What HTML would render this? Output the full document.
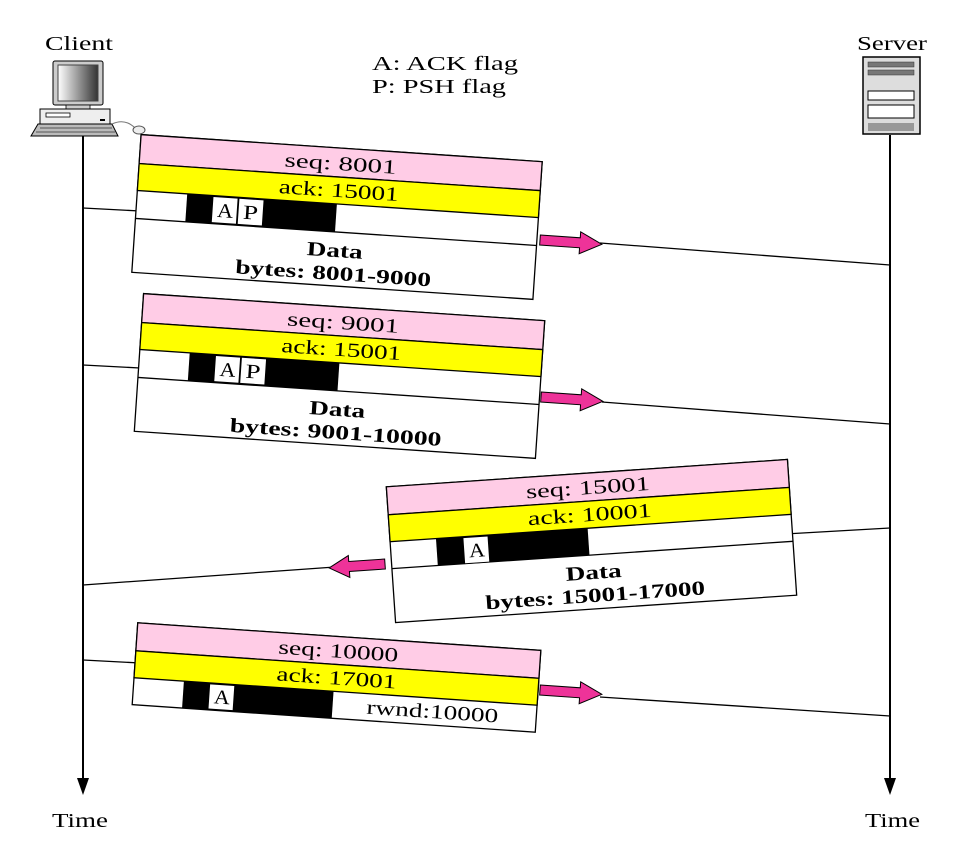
<!DOCTYPE html>
<html><head><style>body{margin:0;background:#fff}svg{display:block}</style></head><body>
<svg width="962" height="850" viewBox="0 0 962 850" xmlns="http://www.w3.org/2000/svg" font-family="Liberation Serif, serif">
<defs>
<linearGradient id="scr" x1="0" x2="1"><stop offset="0" stop-color="#fff"/><stop offset="1" stop-color="#333"/></linearGradient>
</defs>
<g font-size="20" lengthAdjust="spacingAndGlyphs">
<text x="45" y="50" textLength="68" lengthAdjust="spacingAndGlyphs">Client</text>
<text x="857" y="50" textLength="70" lengthAdjust="spacingAndGlyphs">Server</text>
<text x="372" y="70" textLength="146" lengthAdjust="spacingAndGlyphs">A: ACK flag</text>
<text x="372" y="93" textLength="134" lengthAdjust="spacingAndGlyphs">P: PSH flag</text>
<text x="52" y="827" textLength="56" lengthAdjust="spacingAndGlyphs">Time</text>
<text x="865" y="827" textLength="55" lengthAdjust="spacingAndGlyphs">Time</text>
</g>
<rect x="53" y="61" width="50" height="44" rx="2" fill="#ccc" stroke="#000"/>
<rect x="58" y="65" width="40" height="36" fill="url(#scr)" stroke="#444"/>
<rect x="66" y="105" width="24" height="4" fill="#ccc" stroke="#000" stroke-width=".8"/>
<rect x="40" y="109" width="70" height="15" fill="#eee" stroke="#000"/>
<rect x="46" y="113" width="24" height="4" fill="#fff" stroke="#000" stroke-width=".8"/>
<rect x="100" y="119" width="5" height="2" fill="#000"/>
<polygon points="38,124 112,124 118,136 31,136" fill="#bbb" stroke="#000"/>
<path d="M40,128H112M36,132H115" stroke="#555"/>
<path d="M112,124 Q125,118 135,128" fill="none" stroke="#777"/>
<ellipse cx="139" cy="130" rx="6" ry="4" fill="#eee" stroke="#555"/>
<rect x="863" y="57" width="57" height="77" fill="#ddd" stroke="#000" stroke-width="1.5"/>
<rect x="868" y="62" width="46" height="5" fill="#777" stroke="#333" stroke-width=".5"/>
<rect x="868" y="70" width="46" height="5" fill="#777" stroke="#333" stroke-width=".5"/>
<rect x="868" y="91" width="46" height="9" fill="#fff" stroke="#000"/>
<rect x="868" y="105" width="46" height="13" fill="#fff" stroke="#000"/>
<rect x="868" y="123" width="46" height="8" fill="#999"/>
<g stroke="#000" stroke-width="2">
<line x1="83" y1="136" x2="83" y2="785"/>
<line x1="890" y1="135" x2="890" y2="785"/>
</g>
<polygon points="77,778 89,778 83,795" fill="#000"/>
<polygon points="884,778 896,778 890,795" fill="#000"/>
<g stroke="#000" stroke-width="1.3" fill="none">
<line x1="83" y1="208" x2="140" y2="211"/>
<line x1="600" y1="243" x2="890" y2="265"/>
<line x1="83" y1="365" x2="140" y2="368"/>
<line x1="602" y1="402" x2="890" y2="424"/>
<line x1="785" y1="534" x2="890" y2="528"/>
<line x1="83" y1="585" x2="335" y2="567"/>
<line x1="83" y1="660" x2="140" y2="663"/>
<line x1="600" y1="697" x2="890" y2="716"/>
</g>
<g fill="#ee3399" stroke="#000" stroke-width="1">
<polygon transform="translate(540,240) rotate(4)" points="0,-5 40,-5 40,-11 62,0 40,11 40,5 0,5"/>
<polygon transform="translate(541,397) rotate(4)" points="0,-5 40,-5 40,-11 62,0 40,11 40,5 0,5"/>
<polygon transform="translate(385,564) rotate(176)" points="0,-5 36,-5 36,-11 56,0 36,11 36,5 0,5"/>
<polygon transform="translate(540,690) rotate(4)" points="0,-5 40,-5 40,-11 62,0 40,11 40,5 0,5"/>
</g>
<g transform="translate(337,217) rotate(3.86)" font-size="20">
<rect x="-201" y="-69" width="402" height="138" fill="#fff" stroke="#000" stroke-width="1.3"/>
<rect x="-201" y="-69" width="402" height="29" fill="#ffcce6" stroke="#000" stroke-width="1.3"/>
<rect x="-201" y="-40" width="402" height="27" fill="#ffff00" stroke="#000" stroke-width="1.3"/>
<line x1="-201" y1="15" x2="201" y2="15" stroke="#000" stroke-width="1.3"/>
<rect x="-151" y="-13" width="150" height="28" fill="#000"/>
<rect x="-125" y="-12" width="25" height="26" fill="#fff" stroke="#000" stroke-width=".8"/>
<rect x="-99" y="-12" width="25" height="26" fill="#fff" stroke="#000" stroke-width=".8"/>
<text x="-120" y="8" textLength="16" lengthAdjust="spacingAndGlyphs">A</text><text x="-94" y="8" textLength="15" lengthAdjust="spacingAndGlyphs">P</text>
<text x="-56" y="-47" textLength="112" lengthAdjust="spacingAndGlyphs">seq: 8001</text>
<text x="-60" y="-20" textLength="120" lengthAdjust="spacingAndGlyphs">ack: 15001</text>
<text x="-28" y="40" textLength="56" lengthAdjust="spacingAndGlyphs" font-weight="bold">Data</text>
<text x="-98" y="63" textLength="196" lengthAdjust="spacingAndGlyphs" font-weight="bold">bytes: 8001-9000</text>
</g>
<g transform="translate(339.5,376) rotate(3.86)" font-size="20">
<rect x="-201" y="-69" width="402" height="138" fill="#fff" stroke="#000" stroke-width="1.3"/>
<rect x="-201" y="-69" width="402" height="29" fill="#ffcce6" stroke="#000" stroke-width="1.3"/>
<rect x="-201" y="-40" width="402" height="27" fill="#ffff00" stroke="#000" stroke-width="1.3"/>
<line x1="-201" y1="15" x2="201" y2="15" stroke="#000" stroke-width="1.3"/>
<rect x="-151" y="-13" width="150" height="28" fill="#000"/>
<rect x="-125" y="-12" width="25" height="26" fill="#fff" stroke="#000" stroke-width=".8"/>
<rect x="-99" y="-12" width="25" height="26" fill="#fff" stroke="#000" stroke-width=".8"/>
<text x="-120" y="8" textLength="16" lengthAdjust="spacingAndGlyphs">A</text><text x="-94" y="8" textLength="15" lengthAdjust="spacingAndGlyphs">P</text>
<text x="-56" y="-47" textLength="112" lengthAdjust="spacingAndGlyphs">seq: 9001</text>
<text x="-60" y="-20" textLength="120" lengthAdjust="spacingAndGlyphs">ack: 15001</text>
<text x="-28" y="40" textLength="56" lengthAdjust="spacingAndGlyphs" font-weight="bold">Data</text>
<text x="-106" y="63" textLength="212" lengthAdjust="spacingAndGlyphs" font-weight="bold">bytes: 9001-10000</text>
</g>
<g transform="translate(591.5,541) rotate(-3.9)" font-size="20">
<rect x="-201" y="-68" width="402" height="136" fill="#fff" stroke="#000" stroke-width="1.3"/>
<rect x="-201" y="-68" width="402" height="28" fill="#ffcce6" stroke="#000" stroke-width="1.3"/>
<rect x="-201" y="-40" width="402" height="27" fill="#ffff00" stroke="#000" stroke-width="1.3"/>
<line x1="-201" y1="14" x2="201" y2="14" stroke="#000" stroke-width="1.3"/>
<rect x="-155" y="-13" width="152" height="27" fill="#000"/>
<rect x="-128" y="-12" width="25" height="26" fill="#fff" stroke="#000" stroke-width=".8"/>
<text x="-123" y="8" textLength="16" lengthAdjust="spacingAndGlyphs">A</text>
<text x="-62" y="-47" textLength="124" lengthAdjust="spacingAndGlyphs">seq: 15001</text>
<text x="-62" y="-20" textLength="124" lengthAdjust="spacingAndGlyphs">ack: 10001</text>
<text x="-28" y="38" textLength="56" lengthAdjust="spacingAndGlyphs" font-weight="bold">Data</text>
<text x="-110" y="61" textLength="220" lengthAdjust="spacingAndGlyphs" font-weight="bold">bytes: 15001-17000</text>
</g>
<g transform="translate(336.5,677.5) rotate(3.9)" font-size="20">
<rect x="-202" y="-41" width="404" height="82" fill="#fff" stroke="#000" stroke-width="1.3"/>
<rect x="-202" y="-41" width="404" height="28" fill="#ffcce6" stroke="#000" stroke-width="1.3"/>
<rect x="-202" y="-13" width="404" height="27" fill="#ffff00" stroke="#000" stroke-width="1.3"/>
<rect x="-152" y="14" width="150" height="27" fill="#000"/>
<rect x="-126" y="15" width="25" height="25" fill="#fff" stroke="#000" stroke-width=".8"/>
<text x="-121" y="34" textLength="16" lengthAdjust="spacingAndGlyphs">A</text>
<text x="-60" y="-20" textLength="120" lengthAdjust="spacingAndGlyphs">seq: 10000</text>
<text x="-60" y="7" textLength="120" lengthAdjust="spacingAndGlyphs">ack: 17001</text>
<text x="32" y="34" textLength="132" lengthAdjust="spacingAndGlyphs">rwnd:10000</text>
</g>
</svg>
</body></html>
